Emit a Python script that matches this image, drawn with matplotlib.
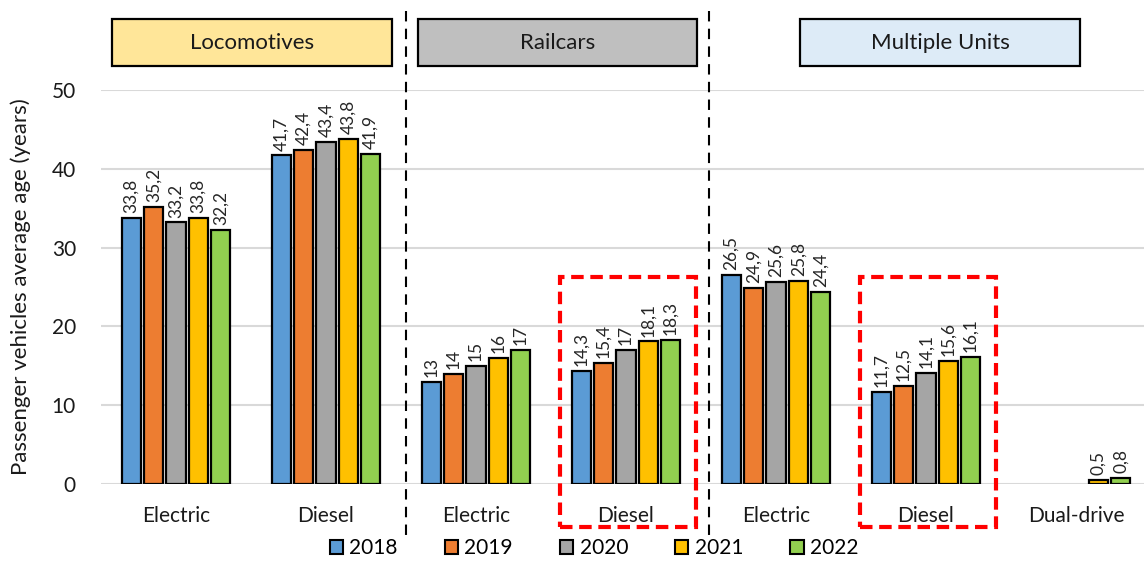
import numpy as np
import matplotlib
matplotlib.use("Agg")
import matplotlib.pyplot as plt
import matplotlib.patches as mpatches
import matplotlib.transforms as mtransforms

plt.rcParams["font.family"] = ["Lato", "DejaVu Sans"]

categories = ["Electric", "Diesel", "Electric", "Diesel", "Electric", "Diesel", "Dual-drive"]
years = ["2018", "2019", "2020", "2021", "2022"]
nan = np.nan
age_2018 = [33.8, 41.7, 13.0, 14.3, 26.5, 11.7, nan]
age_2019 = [35.2, 42.4, 14.0, 15.4, 24.9, 12.5, nan]
age_2020 = [33.2, 43.4, 15.0, 17.0, 25.6, 14.1, nan]
age_2021 = [33.8, 43.8, 16.0, 18.1, 25.8, 15.6, 0.5]
age_2022 = [32.2, 41.9, 17.0, 18.3, 24.4, 16.1, 0.8]
series = [age_2018, age_2019, age_2020, age_2021, age_2022]
colors = ["#5B9BD5", "#ED7D31", "#A5A5A5", "#FFC000", "#92D050"]

groups = ["Locomotives", "Railcars", "Multiple Units"]
group_colors = ["#FFE699", "#BFBFBF", "#DDEBF7"]
highlight = [3, 5]


def fmt(v):
    return f"{v:g}".replace(".", ",")


def main():
    W, H = 1144, 566
    fig = plt.figure(figsize=(W / 100, H / 100), dpi=100)
    ax = fig.add_axes([101 / W, 1 - 484 / H, 1050 / W, 394 / H])

    x = np.arange(len(categories))
    slot, bw = 0.149, 0.127
    for i, (vals, c) in enumerate(zip(series, colors)):
        xs = x + (i - 2) * slot
        bars = ax.bar(xs, vals, bw, color=c, edgecolor="black", linewidth=1.6, zorder=3)
        for b, v in zip(bars, vals):
            if np.isnan(v):
                continue
            ax.annotate(fmt(v), (b.get_x() + b.get_width() / 2, v),
                        xytext=(0, 3.5), textcoords="offset points",
                        rotation=90, ha="center", va="bottom", fontsize=12.5,
                        color="#262626", zorder=4)

    ax.set_xlim(-0.5, len(categories) - 0.5)
    ax.set_ylim(0, 50)
    ax.set_yticks(range(0, 51, 10))
    ax.set_xticks(x)
    ax.set_xticklabels(categories)
    ax.tick_params(axis="x", length=0, pad=16, labelsize=15, colors="#1a1a1a")
    ax.tick_params(axis="y", length=0, pad=18, labelsize=15, colors="#1a1a1a")
    ax.grid(axis="y", color="#D9D9D9", lw=1.5, zorder=0)
    for s in ax.spines.values():
        s.set_visible(False)
    ax.set_ylabel("Passenger vehicles average age (years)", fontsize=16,
                  color="#1a1a1a")
    ax.yaxis.set_label_coords(-70 / 1050, 0.5)

    # vertical separators between vehicle families
    trans = mtransforms.blended_transform_factory(ax.transData, ax.transAxes)
    for sx in (1.53, 3.55):
        ax.plot([sx, sx], [1.2, -0.13], transform=trans, color="black",
                ls=(0, (5, 3.5)), lw=1.5, clip_on=False, zorder=5)

    # dashed red frames around the diesel groups
    for h in highlight:
        rect = mpatches.Rectangle((h - 0.44, -0.11), 0.905, 0.635, transform=trans,
                                  fill=False, edgecolor="#FF0000", lw=3,
                                  ls=(0, (3, 1.6)), clip_on=False, zorder=5)
        ax.add_patch(rect)

    # family header boxes
    for name, fc, (x0, x1) in zip(groups, group_colors, [(112, 392), (418, 697), (800, 1080)]):
        box = mpatches.Rectangle((x0 / W, 1 - 66 / H), (x1 - x0) / W, 47 / H,
                                 transform=fig.transFigure, facecolor=fc,
                                 edgecolor="black", lw=1.6)
        fig.add_artist(box)
        fig.text((x0 + x1) / 2 / W, 1 - 43 / H, name, ha="center", va="center",
                 fontsize=16, color="#1a1a1a")

    handles = [mpatches.Patch(facecolor=c, edgecolor="black", lw=1.5) for c in colors]
    fig.legend(handles, years, loc="center", bbox_to_anchor=(594 / W, 1 - 548 / H),
               ncol=5, frameon=False, fontsize=15, handlelength=0.65,
               handleheight=0.65, handletextpad=0.3, columnspacing=2.25)

    fig.savefig("out.png", dpi=100)


if __name__ == "__main__":
    main()
